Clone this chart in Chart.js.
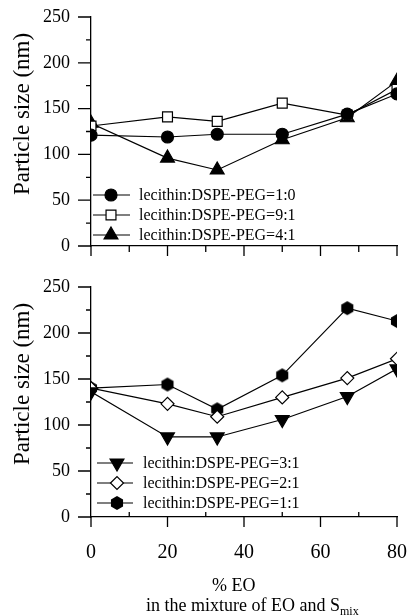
<!DOCTYPE html>
<html lang="en">
<head>
    <meta charset="UTF-8">
    <title>Particle size vs % EO</title>
    <script src="https://cdn.jsdelivr.net/npm/chart.js"></script>
    <style>
        body {
            margin: 0;
            background: #fff;
        }
        .figure {
            position: relative;
            width: 407px;
            height: 615px;
            overflow: hidden;
            font-family: "Liberation Serif", "Times New Roman", serif;
            color: #000;
        }
        canvas {
            position: absolute;
            left: 0;
        }
        #topChart { top: 0; }
        #bottomChart { top: 270px; }
        .y-title {
            position: absolute;
            left: 22px;
            font-size: 23px;
            white-space: nowrap;
            transform: translate(-50%, -50%) rotate(-90deg);
        }
        .x-title {
            position: absolute;
            font-size: 18px;
            line-height: 20px;
            white-space: nowrap;
        }
        .x-title sub {
            font-size: 12px;
            vertical-align: -4px;
        }
    </style>
</head>
<body>
    <div class="figure">
        <canvas id="topChart" width="407" height="270"></canvas>
        <canvas id="bottomChart" width="407" height="345"></canvas>
        <div class="y-title" style="top: 114px;">Particle size (nm)</div>
        <div class="y-title" style="top: 384px;">Particle size (nm)</div>
        <div class="x-title" style="left: 212px; top: 575px;">% EO</div>
        <div class="x-title" style="left: 146px; top: 595px;">in the mixture of EO and S<sub>mix</sub></div>
    </div>

    <script>
        // ---------- data ----------
        const eoPercent = [0, 20, 33, 50, 67, 80];

        // top panel
        const ratio1to0 = [121, 119, 122, 122, 144, 166];
        const ratio9to1 = [131, 141, 136, 156, 143, 171];
        const ratio4to1 = [134, 96, 83, 116, 140, 180];

        // bottom panel
        const ratio3to1 = [136, 87, 87, 106, 131, 161];
        const ratio2to1 = [140, 123, 109, 130, 151, 172];
        const ratio1to1 = [140, 144, 117, 154, 227, 213];

        const xTickLabels = [0, 20, 40, 60, 80];
        const yTickLabels = [0, 50, 100, 150, 200, 250];

        const FONT = '"Liberation Serif", "Times New Roman", serif';
        Chart.defaults.font.family = FONT;
        Chart.defaults.color = '#000';

        // filled hexagon (pointy top) used as marker for 1:1
        function makeHexagon(r) {
            const size = Math.ceil(r * 2 + 2);
            const c = document.createElement('canvas');
            c.width = size;
            c.height = size;
            const g = c.getContext('2d');
            g.beginPath();
            for (let i = 0; i < 6; i++) {
                const a = -Math.PI / 2 + i * Math.PI / 3;
                const px = size / 2 + r * Math.cos(a);
                const py = size / 2 + r * Math.sin(a);
                if (i === 0) g.moveTo(px, py); else g.lineTo(px, py);
            }
            g.closePath();
            g.fillStyle = '#000';
            g.fill();
            return c;
        }
        const hexagon = makeHexagon(7);

        function series(label, values, style, fill, radius, rotation) {
            return {
                label: label,
                data: eoPercent.map((x, i) => ({ x: x, y: values[i] })),
                borderColor: '#000',
                borderWidth: 1.2,
                pointStyle: style,
                pointRadius: radius,
                pointHoverRadius: radius,
                pointRotation: rotation || 0,
                pointBackgroundColor: fill,
                pointBorderColor: '#000',
                pointBorderWidth: 1.2,
                tension: 0
            };
        }

        // ---------- tick marks (major / minor) drawn on the scales ----------
        const axisTicks = {
            id: 'axisTicks',
            afterDraw(chart, args, opts) {
                const ctx = chart.ctx;
                const xs = chart.scales.x;
                const ys = chart.scales.y;
                const area = chart.chartArea;
                ctx.save();
                ctx.strokeStyle = '#000';
                ctx.lineWidth = 1.3;
                ctx.beginPath();
                for (let v = 0; v <= 80; v += 10) {
                    const px = xs.getPixelForValue(v);
                    if (v % 20 === 0) {
                        ctx.moveTo(px, area.bottom);
                        ctx.lineTo(px, area.bottom + 10);
                    } else if (opts.minorUp) {
                        ctx.moveTo(px, area.bottom);
                        ctx.lineTo(px, area.bottom - 5);
                    } else {
                        ctx.moveTo(px, area.bottom);
                        ctx.lineTo(px, area.bottom + 6);
                    }
                }
                for (let v = 0; v <= 250; v += 25) {
                    const py = ys.getPixelForValue(v);
                    const len = v % 50 === 0 ? 13 : 5;
                    ctx.moveTo(area.left - len, py);
                    ctx.lineTo(area.left, py);
                }
                ctx.stroke();
                ctx.restore();
            }
        };

        // ---------- legend inside the plot: line + marker + text ----------
        const lineLegend = {
            id: 'lineLegend',
            afterDatasetsDraw(chart, args, opts) {
                const ctx = chart.ctx;
                const area = chart.chartArea;
                const n = chart.data.datasets.length;
                ctx.save();
                chart.data.datasets.forEach((ds, i) => {
                    const yy = area.bottom - opts.bottomOffset - (n - 1 - i) * opts.rowGap;
                    ctx.strokeStyle = '#000';
                    ctx.lineWidth = 1.2;
                    ctx.beginPath();
                    ctx.moveTo(area.left + opts.lineStart, yy);
                    ctx.lineTo(area.left + opts.lineEnd, yy);
                    ctx.stroke();
                    ctx.fillStyle = ds.pointBackgroundColor;
                    ctx.strokeStyle = ds.pointBorderColor;
                    ctx.lineWidth = ds.pointBorderWidth;
                    Chart.helpers.drawPoint(ctx, {
                        pointStyle: ds.pointStyle,
                        rotation: ds.pointRotation,
                        radius: ds.pointRadius,
                        borderWidth: ds.pointBorderWidth
                    }, area.left + opts.marker, yy);
                    ctx.fillStyle = '#000';
                    ctx.font = '16px ' + FONT;
                    ctx.textBaseline = 'middle';
                    ctx.textAlign = 'left';
                    ctx.fillText(ds.label, area.left + opts.textStart, yy + 1);
                });
                ctx.restore();
            }
        };

        function makeOptions(showXLabels, xHeight, minorUp, legendOpts) {
            return {
                responsive: false,
                animation: false,
                layout: { padding: { top: 17, right: 10, left: 0, bottom: 0 } },
                scales: {
                    x: {
                        type: 'linear',
                        min: 0,
                        max: 80,
                        grid: { display: false, drawTicks: false },
                        border: { display: true, color: '#000', width: 1.3 },
                        ticks: {
                            display: showXLabels,
                            stepSize: 20,
                            padding: 24,
                            font: { size: 20 },
                            callback: (v) => xTickLabels.includes(v) ? String(v) : ''
                        },
                        afterFit(scale) {
                            scale.height = xHeight;
                            scale.paddingLeft = 0;
                            scale.paddingRight = 0;
                        }
                    },
                    y: {
                        min: 0,
                        max: 250,
                        grid: { display: false, drawTicks: false },
                        border: { display: true, color: '#000', width: 1.3 },
                        ticks: {
                            stepSize: 50,
                            padding: 21,
                            font: { size: 18 },
                            callback: (v) => yTickLabels.includes(v) ? String(v) : ''
                        },
                        afterFit(scale) {
                            scale.width = 91;
                            scale.paddingTop = 0;
                            scale.paddingBottom = 0;
                        }
                    }
                },
                plugins: {
                    legend: { display: false },
                    tooltip: { enabled: false },
                    axisTicks: { minorUp: minorUp },
                    lineLegend: legendOpts
                }
            };
        }

        new Chart(document.getElementById('topChart'), {
            type: 'line',
            data: {
                datasets: [
                    series('lecithin:DSPE-PEG=1:0', ratio1to0, 'circle', '#000', 6),
                    series('lecithin:DSPE-PEG=9:1', ratio9to1, 'rect', '#fff', 7),
                    series('lecithin:DSPE-PEG=4:1', ratio4to1, 'triangle', '#000', 8)
                ]
            },
            options: makeOptions(false, 24, false,
                { bottomOffset: 11, rowGap: 20, lineStart: 2, lineEnd: 39, marker: 20, textStart: 48 }),
            plugins: [axisTicks, lineLegend]
        });

        new Chart(document.getElementById('bottomChart'), {
            type: 'line',
            data: {
                datasets: [
                    series('lecithin:DSPE-PEG=3:1', ratio3to1, 'triangle', '#000', 8, 180),
                    series('lecithin:DSPE-PEG=2:1', ratio2to1, 'rectRot', '#fff', 6.5),
                    series('lecithin:DSPE-PEG=1:1', ratio1to1, hexagon, '#000', 7)
                ]
            },
            options: makeOptions(true, 98, true,
                { bottomOffset: 14, rowGap: 20, lineStart: 6, lineEnd: 42, marker: 26, textStart: 52 }),
            plugins: [axisTicks, lineLegend]
        });
    </script>
</body>
</html>
